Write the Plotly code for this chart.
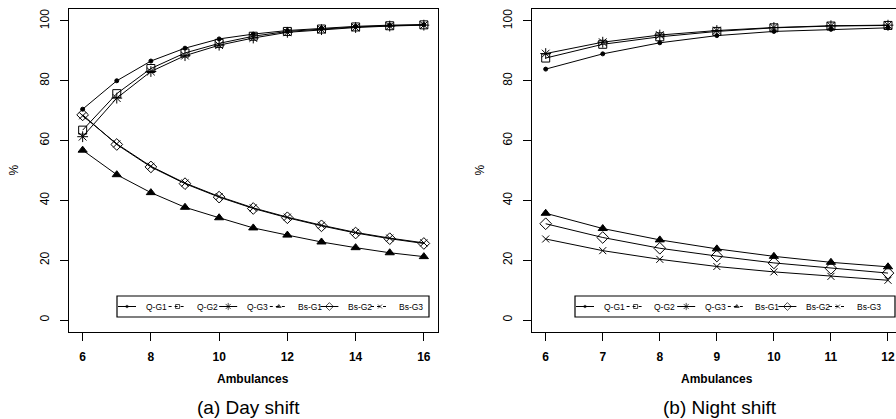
import plotly.graph_objects as go

W, H = 896, 419

# ---- data -------------------------------------------------------------
series_names = ["Q-G1", "Q-G2", "Q-G3", "Bs-G1", "Bs-G2", "Bs-G3"]

day_x = [6, 7, 8, 9, 10, 11, 12, 13, 14, 15, 16]
day_q_g1 = [70.5, 80.0, 86.6, 90.9, 94.0, 95.6, 96.8, 97.6, 98.2, 98.6, 98.8]
day_q_g2 = [63.5, 75.7, 84.1, 89.3, 92.5, 94.9, 96.5, 97.3, 98.0, 98.4, 98.7]
day_q_g3 = [61.3, 74.2, 83.1, 88.4, 91.9, 94.3, 96.2, 97.1, 97.8, 98.3, 98.6]
day_bs_g1 = [56.8, 48.6, 42.6, 37.7, 34.2, 30.8, 28.4, 26.1, 24.2, 22.5, 21.2]
day_bs_g2 = [68.6, 58.7, 51.2, 45.6, 41.1, 37.3, 34.2, 31.5, 29.1, 27.2, 25.6]
day_bs_g3 = [68.3, 58.9, 51.4, 45.8, 41.3, 37.5, 34.4, 31.7, 29.3, 27.4, 25.8]

night_x = [6, 7, 8, 9, 10, 11, 12]
night_q_g1 = [83.9, 89.0, 92.7, 95.1, 96.5, 97.2, 97.7]
night_q_g2 = [87.6, 92.2, 94.7, 96.5, 97.7, 98.3, 98.5]
night_q_g3 = [89.1, 92.9, 95.3, 96.8, 97.8, 98.4, 98.6]
night_bs_g1 = [35.7, 30.6, 26.8, 23.8, 21.3, 19.3, 17.8]
night_bs_g2 = [32.2, 27.6, 24.0, 21.4, 19.1, 17.3, 15.7]
night_bs_g3 = [27.1, 23.2, 20.3, 17.9, 16.1, 14.6, 13.3]

y_ticks = [0, 20, 40, 60, 80, 100]
day_x_ticks = [6, 8, 10, 12, 14, 16]
night_x_ticks = [6, 7, 8, 9, 10, 11, 12]

# ---- styles -------------------------------------------------------------
symbols = ["circle", "square-open", "asterisk-open", "triangle-up", "diamond-open", "x-thin-open"]
sizes = [4, 8, 9, 8, 9, 7]
key_sizes = [2.5, 4, 6, 4, 6, 4]
key_dash = ["solid", "3px,3px", "solid", "3px,3px", "solid", "3px,3px"]
FONT = "Liberation Sans, Arial, Helvetica, sans-serif"
INK = "black"


def px_x(p):
    return p / W


def px_y(p):
    return 1 - p / H


fig = go.Figure()

day_sets = [day_q_g1, day_q_g2, day_q_g3, day_bs_g1, day_bs_g2, day_bs_g3]
night_sets = [night_q_g1, night_q_g2, night_q_g3, night_bs_g1, night_bs_g2, night_bs_g3]

for xa, ya, xs, sets in (("x", "y", day_x, day_sets), ("x2", "y2", night_x, night_sets)):
    for name, vals, sym, sz in zip(series_names, sets, symbols, sizes):
        fig.add_trace(go.Scatter(
            x=xs, y=vals, name=name, mode="lines+markers", xaxis=xa, yaxis=ya,
            showlegend=False,
            line=dict(color=INK, width=1),
            marker=dict(symbol=sym, size=sz, color=INK, line=dict(color=INK, width=1)),
        ))

# ---- hand-drawn legends (pixel-space overlay axes) -----------------------
legend_boxes = [
    dict(x0=117, x1=429, first=118, step=50.6, text_off=26),
    dict(x0=575, x1=895, first=576, step=50.6, text_off=25.5),
]
ly0, ly1 = 296, 317
lyc = (ly0 + ly1) / 2
key_w = 18

shapes = []
annotations = []
for box in legend_boxes:
    shapes.append(dict(type="rect", xref="x3", yref="y3", x0=box["x0"], x1=box["x1"],
                       y0=ly0, y1=ly1, line=dict(color=INK, width=1.2)))
    for k, name in enumerate(series_names):
        kx = box["first"] + box["step"] * k
        fig.add_trace(go.Scatter(
            x=[kx, kx + key_w / 2, kx + key_w], y=[lyc, lyc, lyc],
            xaxis="x3", yaxis="y3", mode="lines+markers", showlegend=False,
            hoverinfo="skip",
            line=dict(color=INK, width=1, dash=key_dash[k]),
            marker=dict(symbol=symbols[k], size=[0, key_sizes[k], 0], color=INK,
                        line=dict(color=INK, width=1)),
        ))
        annotations.append(dict(
            xref="x3", yref="y3", x=kx + box["text_off"], y=lyc, text=name,
            showarrow=False, xanchor="left", yanchor="middle",
            font=dict(family=FONT, size=8.5, color=INK),
        ))

# ---- axis titles and panel captions --------------------------------------
for cx in (14, 480):
    annotations.append(dict(xref="paper", yref="paper", x=px_x(cx), y=px_y(170.5),
                            text="%", textangle=-90, showarrow=False,
                            xanchor="center", yanchor="middle",
                            font=dict(family=FONT, size=12, color=INK)))
for cx in (253, 717):
    annotations.append(dict(xref="paper", yref="paper", x=px_x(cx), y=px_y(379),
                            text="<b>Ambulances</b>", showarrow=False,
                            xanchor="center", yanchor="middle",
                            font=dict(family=FONT, size=12, color=INK)))
for cx, cap in ((248, "(a) Day shift"), (720, "(b) Night shift")):
    annotations.append(dict(xref="paper", yref="paper", x=px_x(cx), y=px_y(407),
                            text=cap, showarrow=False,
                            xanchor="center", yanchor="middle",
                            font=dict(family=FONT, size=19, color=INK)))

y_dom = [px_y(332), px_y(9)]
common_x = dict(showline=True, linecolor=INK, linewidth=1.3, mirror=True,
                ticks="outside", ticklen=8, tickcolor=INK, tickwidth=1,
                showgrid=False, zeroline=False,
                tickfont=dict(family=FONT, size=12, color=INK, weight="bold"),
                ticklabelstandoff=5)
common_y = dict(showline=True, linecolor=INK, linewidth=1.3,
                ticks="outside", ticklen=8, tickcolor=INK, tickwidth=1,
                showgrid=False, zeroline=False, tickangle=-90,
                tickvals=y_ticks, range=[-4, 104], domain=y_dom,
                tickfont=dict(family=FONT, size=12, color=INK),
                ticklabelstandoff=6)

fig.update_layout(
    width=W, height=H,
    margin=dict(l=0, r=0, t=0, b=0),
    paper_bgcolor="white", plot_bgcolor="rgba(0,0,0,0)",
    showlegend=False,
    xaxis=dict(domain=[px_x(69), px_x(437.5)], range=[5.6, 16.4], tickvals=day_x_ticks,
               anchor="y", **common_x),
    yaxis=dict(anchor="x", mirror=True, **common_y),
    xaxis2=dict(domain=[px_x(532), 1.0], range=[5.76, 5.76 + (W - 532) / 57.05],
                tickvals=night_x_ticks, anchor="y2", **common_x),
    yaxis2=dict(anchor="x2", mirror=False, **common_y),
    xaxis3=dict(domain=[0, 1], range=[0, W], visible=False, fixedrange=True, anchor="y3"),
    yaxis3=dict(domain=[0, 1], range=[H, 0], visible=False, fixedrange=True, anchor="x3"),
    shapes=shapes,
    annotations=annotations,
)

fig.write_html("out.html")
